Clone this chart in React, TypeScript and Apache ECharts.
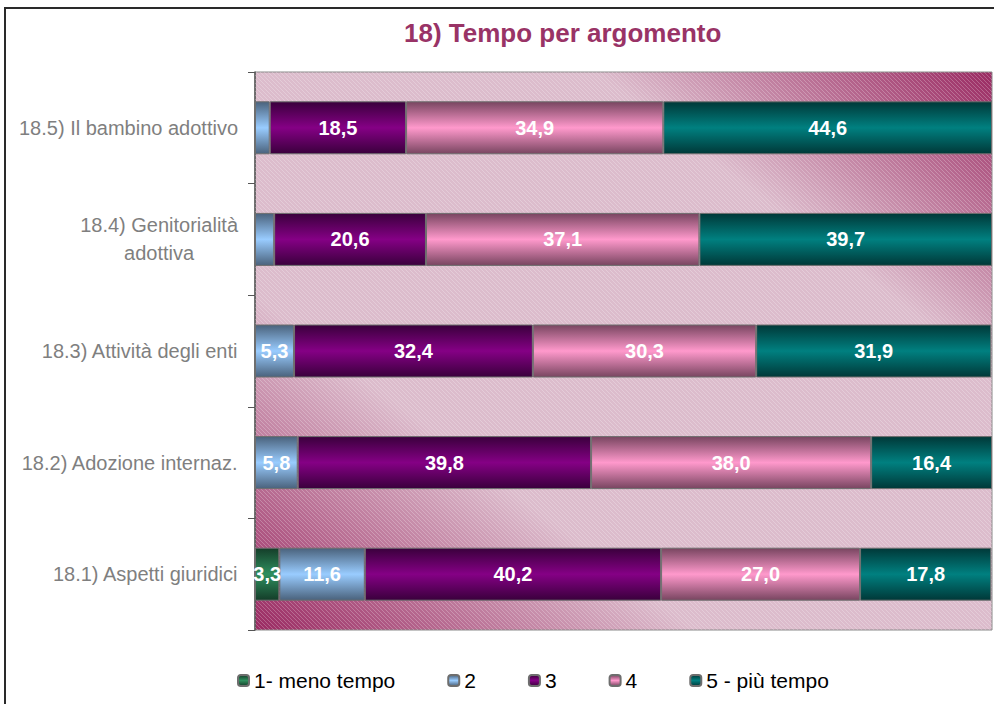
import React, { useEffect, useRef } from "react";
import * as echarts from "echarts";

const categories = [
  "18.1) Aspetti giuridici",
  "18.2) Adozione internaz.",
  "18.3) Attività degli enti",
  "18.4) Genitorialità\nadottiva",
  "18.5) Il bambino adottivo",
];
const seriesNames = ["1- meno tempo", "2", "3", "4", "5 - più tempo"];
const s1 = [3.3, 0, 0, 0, 0];
const s2 = [11.6, 5.8, 5.3, 2.6, 2.0];
const s3 = [40.2, 39.8, 32.4, 20.6, 18.5];
const s4 = [27.0, 38.0, 30.3, 37.1, 34.9];
const s5 = [17.8, 16.4, 31.9, 39.7, 44.6];
const seriesData = [s1, s2, s3, s4, s5];

const centers = ["#2f8f5e", "#99ccff", "#850085", "#ff99cc", "#008080"];
const edges = ["#143d29", "#4a627c", "#3a003c", "#784560", "#003838"];

const FONT = "'Liberation Sans', Arial, sans-serif";

export default function App() {
  const ref = useRef<HTMLDivElement>(null);
  useEffect(() => {
    if (!ref.current) return;
    const chart = echarts.init(ref.current, undefined, { renderer: "svg" });
    const hatchSvg =
      "<svg xmlns='http://www.w3.org/2000/svg' width='4' height='4'>" +
      "<path d='M-1,-1 L5,5 M-1,3 L1,5 M3,-1 L5,1' stroke='white' stroke-opacity='0.3' stroke-width='0.8'/></svg>";
    const hatchUrl = "data:image/svg+xml;charset=utf-8," + encodeURIComponent(hatchSvg);

    const series = seriesData.map((d, i) => ({
      name: seriesNames[i],
      type: "bar",
      stack: "total",
      barWidth: 53,
      data: d,
      itemStyle: {
        color: new echarts.graphic.LinearGradient(0, 0, 0, 1, [
          { offset: 0, color: edges[i] },
          { offset: 0.5, color: centers[i] },
          { offset: 1, color: edges[i] },
        ]),
        borderColor: "#6e6e6e",
        borderWidth: 1,
      },
      label: {
        show: true,
        position: "inside",
        color: "#ffffff",
        fontFamily: FONT,
        fontWeight: "bold",
        fontSize: 20,
        formatter: (p: any) => (p.value >= 3 ? p.value.toFixed(1).replace(".", ",") : ""),
      },
      z: 3,
    }));

    chart.setOption({
      animation: false,
      title: {
        text: "18) Tempo per argomento",
        left: 399,
        top: 15,
        textStyle: { color: "#993366", fontSize: 26, fontWeight: "bold", fontFamily: FONT },
      },
      legend: {
        bottom: 8,
        left: 232,
        itemWidth: 11,
        itemHeight: 11,
        itemGap: 52,
        textStyle: { color: "#000", fontSize: 21, fontFamily: FONT },
        data: seriesNames,
      },
      grid: {
        left: 255,
        right: 2,
        top: 72,
        bottom: 74,
        show: true,
        borderColor: "#8a8a8a",
        borderWidth: 1,
        backgroundColor: new echarts.graphic.LinearGradient(1, 0, 0, 1, [
          { offset: 0, color: "#9a2a62" },
          { offset: 0.27, color: "#dcbccc" },
          { offset: 0.7, color: "#dcbccc" },
          { offset: 1, color: "#9a2a62" },
        ]),
      },
      xAxis: {
        type: "value",
        min: 0,
        max: 100,
        show: false,
      },
      yAxis: {
        type: "category",
        data: categories,
        axisLine: { show: true, lineStyle: { color: "#555", width: 1.5 } },
        axisTick: { show: true, length: 7, lineStyle: { color: "#555" } },
        axisLabel: {
          margin: 17,
          color: "#7f7f7f",
          fontSize: 20,
          fontFamily: FONT,
          lineHeight: 28,
          formatter: (v: string) =>
            v
              .split("\n")
              .map((l) => "{c|" + l + "}")
              .join("\n"),
          rich: { c: { align: "center", color: "#7f7f7f", fontSize: 20, fontFamily: FONT, lineHeight: 28 } },
        },
      },
      graphic: [
        {
          type: "rect",
          z: 1,
          silent: true,
          shape: { x: 255, y: 72, width: 737, height: 558 },
          style: {
            fill: { image: hatchUrl, repeat: "repeat", imageWidth: 4, imageHeight: 4 } as any,
          },
        },
        {
          type: "rect",
          z: 0,
          silent: true,
          shape: { x: 5, y: 8, width: 1010, height: 720 },
          style: { fill: "none", stroke: "#2a2a2a", lineWidth: 2 },
        },
      ],
      series,
    });
    return () => chart.dispose();
  }, []);
  return (
    <div
      ref={ref}
      style={{ position: "fixed", left: 0, top: 0, width: 994, height: 704, background: "#fff" }}
    />
  );
}
